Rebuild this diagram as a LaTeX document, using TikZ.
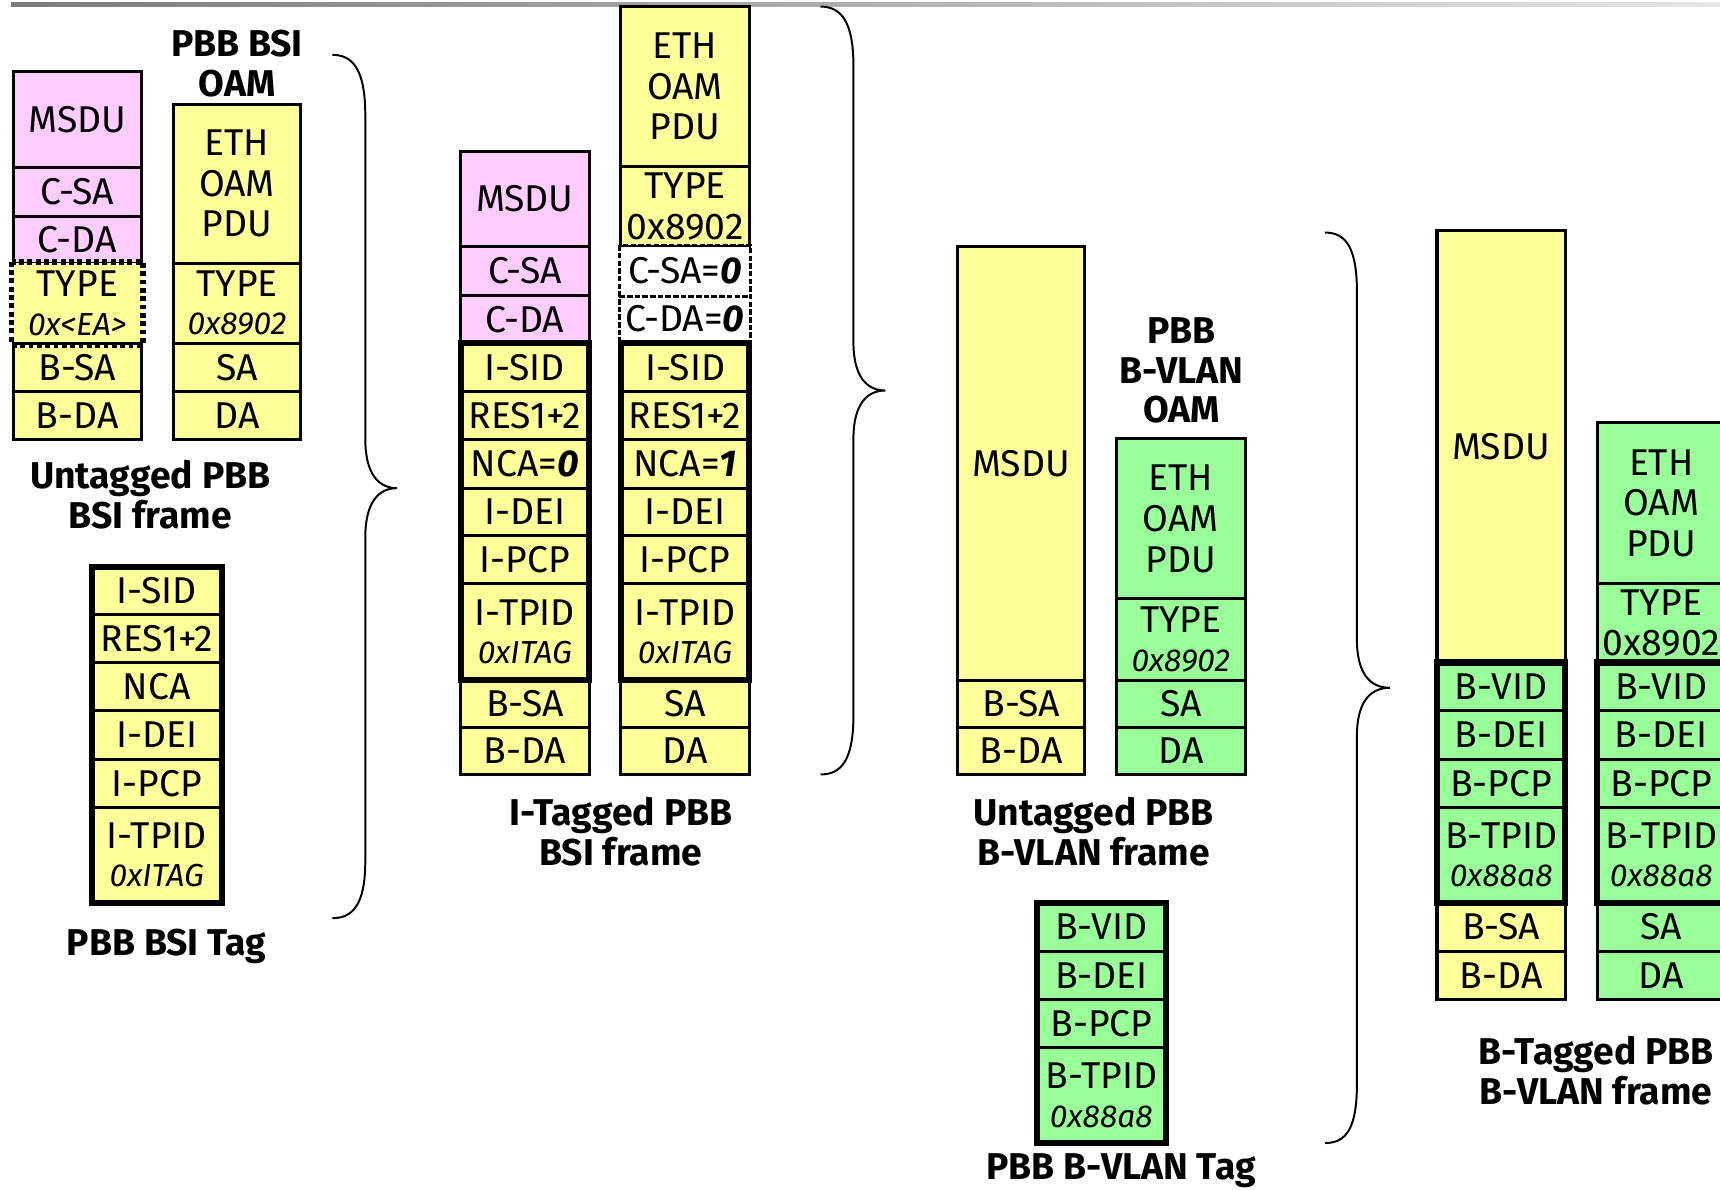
\documentclass[tikz,border=0pt]{standalone}
\usepackage{fontspec}
\setmainfont{Fira Sans}
\usetikzlibrary{fit}
\definecolor{pk}{RGB}{255,204,255}
\definecolor{yl}{RGB}{255,255,153}
\definecolor{gn}{RGB}{153,255,153}
\newcommand{\cellfont}{\fontsize{17}{18.5}\selectfont}
\newcommand{\subit}[1]{{\fontsize{14.5}{16}\selectfont\itshape #1}}
\newcommand{\fcell}[7]{%
  \coordinate (#1-nw) at (#2,#3);
  \coordinate (#1-se) at (#4,#5);
  \node[cellst,#6,fit=(#1-nw)(#1-se)] (#1) {};
  \node[celltx] (#1-t) at (#1.center) {#7};}
\tikzset{
  cellst/.style={draw,line width=1.4pt,inner sep=0pt},
  celltx/.style={align=center,font=\cellfont,inner sep=0pt},
  grpst/.style={draw,line width=2.8pt,inner sep=0pt},
  dashA/.style={line width=2.6pt,dash pattern=on 2.2pt off 1.6pt},
  dashB/.style={line width=1.3pt,dash pattern=on 2.5pt off 1pt},
  titlest/.style={align=center,font=\fontsize{17}{18}\selectfont\bfseries,inner sep=0pt},
  bracest/.style={line width=0.9pt}
}
\begin{document}
\begin{tikzpicture}[x=0.5pt,y=-0.5pt]
\useasboundingbox (0,0) rectangle (1568,1084);
\clip (0,0) rectangle (1568,1084);
\shade[left color=black!52,right color=black!10] (10,2.5) rectangle (1568,5.8);

% ---- Untagged PBB BSI frame
\fcell{A1}{12}{65}{129}{153}{fill=pk}{MSDU}
\fcell{A2}{12}{153}{129}{197}{fill=pk}{C-SA}
\fcell{A3}{12}{197}{129}{240}{fill=pk}{C-DA}
\fcell{A4}{12}{240}{129}{313}{fill=yl,draw=none}{TYPE\\[-1pt]\subit{0x<EA>}}
\fcell{A5}{12}{313}{129}{357}{fill=yl}{B-SA}
\fcell{A6}{12}{357}{129}{401}{fill=yl}{B-DA}
\draw[dashA] (A4.north west) rectangle (A4.south east);

\fcell{B1}{158}{95}{274}{240}{fill=yl}{ETH\\OAM\\PDU}
\fcell{B2}{158}{240}{274}{313}{fill=yl}{TYPE\\[-1pt]\subit{0x8902}}
\fcell{B3}{158}{313}{274}{357}{fill=yl}{SA}
\fcell{B4}{158}{357}{274}{401}{fill=yl}{DA}

\node[titlest] (tA) at (216,58) {PBB BSI\\OAM};
\node[titlest] (tB) at (137,451) {Untagged PBB\\BSI frame};

% ---- PBB BSI Tag
\fcell{T1}{84}{517}{202}{560}{fill=yl}{I-SID}
\fcell{T2}{84}{560}{202}{604}{fill=yl}{RES1+2}
\fcell{T3}{84}{604}{202}{648}{fill=yl}{NCA}
\fcell{T4}{84}{648}{202}{692}{fill=yl}{I-DEI}
\fcell{T5}{84}{692}{202}{736}{fill=yl}{I-PCP}
\fcell{T6}{84}{736}{202}{823}{fill=yl}{I-TPID\\[-1pt]\subit{0xITAG}}
\node[grpst,fit=(T1-nw)(T6-se)] (Tg) {};
\node[titlest] (tT) at (152,863) {PBB BSI Tag};

% brace 1
\draw[bracest] (303,50) .. controls (322,50) and (333,64) .. (333,105) -- (333,400)
  .. controls (333,432) and (345,445) .. (362,445)
  .. controls (345,445) and (333,458) .. (333,490) -- (333,785)
  .. controls (333,824) and (322,837) .. (303,837);

% ---- I-Tagged PBB BSI frame
\fcell{C1}{420}{138}{537}{225}{fill=pk}{MSDU}
\fcell{C2}{420}{225}{537}{269}{fill=pk}{C-SA}
\fcell{C3}{420}{269}{537}{313}{fill=pk}{C-DA}
\fcell{C4}{420}{313}{537}{357}{fill=yl}{I-SID}
\fcell{C5}{420}{357}{537}{401}{fill=yl}{RES1+2}
\fcell{C6}{420}{401}{537}{445}{fill=yl}{NCA=\textbf{\textit{0}}}
\fcell{C7}{420}{445}{537}{488}{fill=yl}{I-DEI}
\fcell{C8}{420}{488}{537}{532}{fill=yl}{I-PCP}
\fcell{C9}{420}{532}{537}{620}{fill=yl}{I-TPID\\[-1pt]\subit{0xITAG}}
\fcell{C10}{420}{620}{537}{663}{fill=yl}{B-SA}
\fcell{C11}{420}{663}{537}{706}{fill=yl}{B-DA}
\node[grpst,fit=(C4-nw)(C9-se)] (Cg) {};

\fcell{D1}{566}{6}{683}{152}{fill=yl}{ETH\\OAM\\PDU}
\fcell{D2}{566}{152}{683}{225}{fill=yl}{TYPE\\0x8902}
\fcell{D3}{566}{225}{683}{269}{fill=white,draw=none}{C-SA=\textbf{\textit{0}}}
\fcell{D4}{566}{269}{683}{313}{fill=white,draw=none}{C-DA=\textbf{\textit{0}}}
\draw[dashB] (D3.north west) rectangle (D4.south east);
\draw[dashB] (D3.south west) -- (D3.south east);
\fcell{D5}{566}{313}{683}{357}{fill=yl}{I-SID}
\fcell{D6}{566}{357}{683}{401}{fill=yl}{RES1+2}
\fcell{D7}{566}{401}{683}{445}{fill=yl}{NCA=\textbf{\textit{1}}}
\fcell{D8}{566}{445}{683}{488}{fill=yl}{I-DEI}
\fcell{D9}{566}{488}{683}{532}{fill=yl}{I-PCP}
\fcell{D10}{566}{532}{683}{620}{fill=yl}{I-TPID\\[-1pt]\subit{0xITAG}}
\fcell{D11}{566}{620}{683}{663}{fill=yl}{SA}
\fcell{D12}{566}{663}{683}{706}{fill=yl}{DA}
\node[grpst,fit=(D5-nw)(D10-se)] (Dg) {};

\node[titlest] (tC) at (566,758) {I-Tagged PBB\\BSI frame};

% brace 2
\draw[bracest] (748,6) .. controls (767,6) and (778,20) .. (778,60) -- (778,312)
  .. controls (778,343) and (790,356) .. (807,356)
  .. controls (790,356) and (778,369) .. (778,400) -- (778,652)
  .. controls (778,693) and (767,706) .. (748,706);

% ---- Untagged PBB B-VLAN frame
\fcell{E1}{873}{225}{989}{620}{fill=yl}{MSDU}
\fcell{E2}{873}{620}{989}{663}{fill=yl}{B-SA}
\fcell{E3}{873}{663}{989}{706}{fill=yl}{B-DA}

\fcell{F1}{1018}{400}{1135}{546}{fill=gn}{ETH\\OAM\\PDU}
\fcell{F2}{1018}{546}{1135}{620}{fill=gn}{TYPE\\[-1pt]\subit{0x8902}}
\fcell{F3}{1018}{620}{1135}{663}{fill=gn}{SA}
\fcell{F4}{1018}{663}{1135}{706}{fill=gn}{DA}

\node[titlest] (tF) at (1077,338) {PBB\\B-VLAN\\OAM};
\node[titlest] (tE) at (997,758) {Untagged PBB\\B-VLAN frame};

% ---- PBB B-VLAN Tag
\fcell{V1}{945}{823}{1063}{867}{fill=gn}{B-VID}
\fcell{V2}{945}{867}{1063}{911}{fill=gn}{B-DEI}
\fcell{V3}{945}{911}{1063}{955}{fill=gn}{B-PCP}
\fcell{V4}{945}{955}{1063}{1042}{fill=gn}{B-TPID\\[-1pt]\subit{0x88a8}}
\node[grpst,fit=(V1-nw)(V4-se)] (Vg) {};
\node[titlest] (tV) at (1022,1067) {PBB B-VLAN Tag};

% brace 3
\draw[bracest] (1208,212) .. controls (1227,212) and (1237,226) .. (1237,266) -- (1237,583)
  .. controls (1237,614) and (1249,627) .. (1267,627)
  .. controls (1249,627) and (1237,640) .. (1237,671) -- (1237,988)
  .. controls (1237,1029) and (1227,1042) .. (1208,1042);

% ---- B-Tagged PBB B-VLAN frame
\fcell{G1}{1310}{210}{1427}{604}{fill=yl}{MSDU}
\fcell{G2}{1310}{604}{1427}{648}{fill=gn}{B-VID}
\fcell{G3}{1310}{648}{1427}{692}{fill=gn}{B-DEI}
\fcell{G4}{1310}{692}{1427}{736}{fill=gn}{B-PCP}
\fcell{G5}{1310}{736}{1427}{823}{fill=gn}{B-TPID\\[-1pt]\subit{0x88a8}}
\fcell{G6}{1310}{823}{1427}{867}{fill=yl}{B-SA}
\fcell{G7}{1310}{867}{1427}{911}{fill=yl}{B-DA}
\node[grpst,fit=(G2-nw)(G5-se)] (Gg) {};

\fcell{H1}{1456}{385}{1573}{532}{fill=gn}{ETH\\OAM\\PDU}
\fcell{H2}{1456}{532}{1573}{604}{fill=gn}{TYPE\\0x8902}
\fcell{H3}{1456}{604}{1573}{648}{fill=gn}{B-VID}
\fcell{H4}{1456}{648}{1573}{692}{fill=gn}{B-DEI}
\fcell{H5}{1456}{692}{1573}{736}{fill=gn}{B-PCP}
\fcell{H6}{1456}{736}{1573}{823}{fill=gn}{B-TPID\\[-1pt]\subit{0x88a8}}
\fcell{H7}{1456}{823}{1573}{867}{fill=gn}{SA}
\fcell{H8}{1456}{867}{1573}{911}{fill=gn}{DA}
\node[grpst,fit=(H3-nw)(H6-se)] (Hg) {};

\node[titlest] (tG) at (1455,976) {B-Tagged PBB\\B-VLAN frame};
\end{tikzpicture}
\end{document}
